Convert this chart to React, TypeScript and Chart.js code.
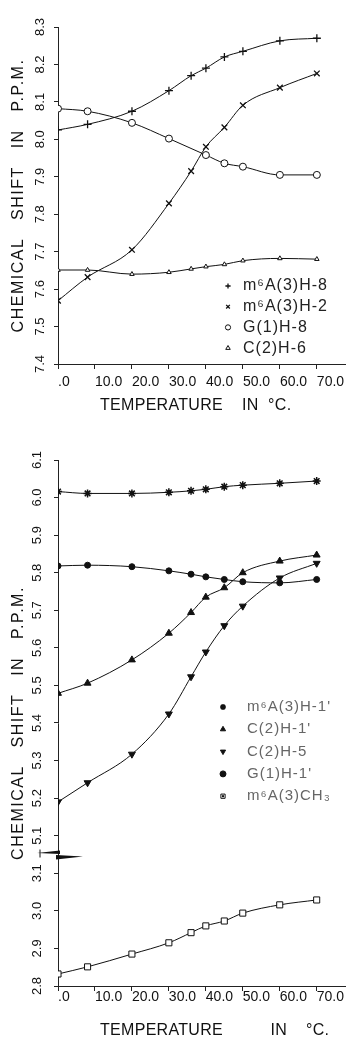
import React, { useEffect, useRef } from 'react';
import { Chart, registerables } from 'chart.js';
import { drawPoint } from 'chart.js/helpers';

Chart.register(...registerables);

// ---------- data ----------
const TEMPERATURES = [0, 8, 20, 30, 36, 40, 45, 50, 60, 70];
const X_TICKS = [0, 10, 20, 30, 40, 50, 60, 70];
const X_TICK_LABELS = ['.0', '10.0', '20.0', '30.0', '40.0', '50.0', '60.0', '70.0'];

// upper panel (aromatic protons), ppm
const M6A_H8 = [8.025, 8.04, 8.075, 8.13, 8.17, 8.19, 8.22, 8.235, 8.263, 8.27];
const M6A_H2 = [7.569, 7.632, 7.705, 7.829, 7.915, 7.98, 8.032, 8.091, 8.138, 8.176];
const G1_H8 = [8.082, 8.075, 8.044, 8.002, null, 7.958, 7.936, 7.927, 7.905, 7.905];
const C2_H6 = [7.651, 7.651, 7.64, 7.645, 7.654, 7.66, 7.666, 7.676, 7.682, 7.68];

// lower panel, ppm
const M6A_H1P = [6.016, 6.011, 6.011, 6.014, 6.018, 6.022, 6.029, 6.033, 6.038, 6.044];
const C2_H1P = [5.479, 5.506, 5.568, 5.639, 5.694, 5.735, 5.76, 5.8, 5.831, 5.847];
const C2_H5 = [5.19, 5.241, 5.317, 5.424, 5.523, 5.589, 5.659, 5.711, 5.786, 5.825];
const G1_H1P = [5.818, 5.82, 5.816, 5.805, 5.796, 5.789, 5.782, 5.776, 5.773, 5.782];
const M6A_CH3 = [2.832, 2.851, 2.885, 2.915, 2.942, 2.96, 2.973, 2.994, 3.016, 3.029];

// the lower axis is broken between 3.1 and 5.1: values below the break are drawn shifted by this amount
const BREAK_SHIFT = 1.9;

const INK = '#111';

function points(values: (number | null)[], shift = 0) {
  return TEMPERATURES.map((t, i) => (values[i] == null ? null : { x: t, y: (values[i] as number) + shift })).filter(
    (p) => p !== null
  );
}

// ---------- plugins ----------
const markerLegend = {
  id: 'markerLegend',
  afterDraw(chart: any, _args: any, opts: any) {
    const ctx = chart.ctx;
    ctx.save();
    ctx.font = opts.font;
    ctx.textBaseline = 'middle';
    ctx.textAlign = 'left';
    try { ctx.letterSpacing = opts.letterSpacing || '0px'; } catch (e) {}
    chart.data.datasets.forEach((ds: any, i: number) => {
      const y = opts.y + i * opts.rowHeight;
      ctx.strokeStyle = ds.pointBorderColor || INK;
      ctx.fillStyle = ds.pointBackgroundColor || INK;
      ctx.lineWidth = ds.pointBorderWidth || 1;
      drawPoint(
        ctx,
        {
          pointStyle: ds.pointStyle,
          rotation: ds.pointRotation || 0,
          radius: opts.markerRadius,
          borderWidth: ds.pointBorderWidth || 1,
        },
        opts.markerX,
        y
      );
      if (ds.pointStyle === 'rect') {
        ctx.fillStyle = INK;
        ctx.fillRect(opts.markerX - 1, y - 1, 2, 2);
      }
      ctx.fillStyle = opts.color;
      ctx.fillText(ds.label, opts.textX, y);
    });
    ctx.restore();
  },
};

const axisTitles = {
  id: 'axisTitles',
  afterDraw(chart: any, _args: any, opts: any) {
    const { ctx, chartArea } = chart;
    ctx.save();
    ctx.fillStyle = opts.color;
    ctx.font = opts.font;
    ctx.textBaseline = 'middle';
    // x title
    try { ctx.letterSpacing = opts.xLetterSpacing; } catch (e) {}
    ctx.textAlign = 'left';
    ctx.fillText(opts.xText, opts.xLeft, opts.xY);
    // y title
    try { ctx.letterSpacing = opts.yLetterSpacing; } catch (e) {}
    ctx.textAlign = 'center';
    ctx.translate(opts.yX, (chartArea.top + chartArea.bottom) / 2);
    ctx.rotate(-Math.PI / 2);
    ctx.fillText(opts.yText, 0, 0);
    ctx.restore();
  },
};

const axisBreak = {
  id: 'axisBreak',
  afterDraw(chart: any, _args: any, opts: any) {
    if (!opts || opts.value == null) return;
    const { ctx, chartArea } = chart;
    const y = chart.scales.y.getPixelForValue(opts.value);
    const x0 = chartArea.left;
    ctx.save();
    ctx.fillStyle = INK;
    ctx.strokeStyle = INK;
    ctx.lineWidth = 1;
    // upper wedge pointing left
    ctx.beginPath();
    ctx.moveTo(x0 + 2, y - 4);
    ctx.lineTo(x0 + 2, y - 0.5);
    ctx.lineTo(x0 - 21, y - 1.5);
    ctx.closePath();
    ctx.fill();
    ctx.beginPath();
    ctx.moveTo(x0 - 18, y - 5);
    ctx.lineTo(x0 - 18, y + 3);
    ctx.stroke();
    // lower wedge pointing right
    ctx.beginPath();
    ctx.moveTo(x0 - 2, y + 0.5);
    ctx.lineTo(x0 - 2, y + 5);
    ctx.lineTo(x0 + 25, y + 2);
    ctx.closePath();
    ctx.fill();
    ctx.restore();
  },
};

// ---------- config helpers ----------
function series(label: string, values: (number | null)[], style: any, shift = 0) {
  return {
    label,
    data: points(values, shift),
    borderColor: INK,
    borderWidth: 1,
    backgroundColor: INK,
    fill: false,
    cubicInterpolationMode: 'monotone',
    pointBorderColor: INK,
    pointBackgroundColor: INK,
    pointBorderWidth: 1,
    ...style,
  };
}

function xScale(height: number, tickPadding: number) {
  return {
    type: 'linear',
    min: 0,
    max: 77.8,
    afterBuildTicks: (s: any) => {
      s.ticks = X_TICKS.map((v) => ({ value: v }));
    },
    afterFit: (s: any) => {
      s.height = height;
      s.paddingLeft = 0;
      s.paddingRight = 0;
    },
    ticks: {
      callback: (_v: any, i: number) => X_TICK_LABELS[i],
      align: 'start',
      padding: tickPadding,
      autoSkip: false,
      maxRotation: 0,
      color: INK,
      font: { size: 14, family: "'Liberation Sans', sans-serif" },
    },
    grid: { display: true, drawOnChartArea: false, drawTicks: true, tickLength: 5, color: '#222' },
    border: { display: true, color: '#222', width: 1 },
  };
}

function yScale(min: number, max: number, tickPadding: number, labelFor: (v: number) => string) {
  return {
    type: 'linear',
    min,
    max,
    afterFit: (s: any) => {
      s.width = 58;
      s.paddingTop = 0;
      s.paddingBottom = 0;
    },
    ticks: {
      stepSize: 0.1,
      callback: (v: number) => labelFor(v),
      minRotation: 90,
      maxRotation: 90,
      crossAlign: 'center',
      padding: tickPadding,
      autoSkip: false,
      color: INK,
      font: { size: 13, family: "'Liberation Sans', sans-serif" },
    },
    grid: { display: true, drawOnChartArea: false, drawTicks: true, tickLength: 4, color: '#222' },
    border: { display: true, color: '#222', width: 1 },
  };
}

const TITLE_FONT = "16px 'Liberation Sans', sans-serif";

function topConfig(): any {
  return {
    type: 'line',
    data: {
      datasets: [
        series('m⁶A(3)H-8', M6A_H8, { pointStyle: 'cross', pointRadius: 4, pointBorderWidth: 1.3 }),
        series('m⁶A(3)H-2', M6A_H2, { pointStyle: 'crossRot', pointRadius: 4, pointBorderWidth: 1.3 }),
        series('G(1)H-8', G1_H8, { pointStyle: 'circle', pointRadius: 3.5, pointBackgroundColor: '#fff' }),
        series('C(2)H-6', C2_H6, { pointStyle: 'triangle', pointRadius: 2.6, pointBackgroundColor: '#fff' }),
      ],
    },
    options: {
      animation: false,
      responsive: false,
      events: [],
      layout: { padding: { top: 27, left: 0, right: 0, bottom: 0 } },
      scales: {
        x: xScale(56, 4.6),
        y: yScale(7.4, 8.3, 5, (v) => v.toFixed(1)),
      },
      plugins: {
        legend: { display: false },
        tooltip: { enabled: false },
        markerLegend: {
          font: TITLE_FONT,
          color: '#222',
          letterSpacing: '1px',
          markerX: 228,
          textX: 243,
          y: 286,
          rowHeight: 20.7,
          markerRadius: 2.6,
        },
        axisTitles: {
          font: TITLE_FONT,
          color: INK,
          xText: 'TEMPERATURE    IN  °C.',
          xLeft: 100,
          xY: 406,
          xLetterSpacing: '0.3px',
          yText: 'CHEMICAL   SHIFT   IN   P.P.M.',
          yX: 19,
          yLetterSpacing: '1.5px',
        },
        axisBreak: {},
      },
    },
    plugins: [markerLegend, axisTitles, axisBreak],
  };
}

function bottomConfig(): any {
  return {
    type: 'line',
    data: {
      datasets: [
        series("m⁶A(3)H-1'", M6A_H1P, { pointStyle: 'star', pointRadius: 4, pointBorderWidth: 1.5 }),
        series("C(2)H-1'", C2_H1P, { pointStyle: 'triangle', pointRadius: 4 }),
        series('C(2)H-5', C2_H5, { pointStyle: 'triangle', pointRotation: 180, pointRadius: 4 }),
        series("G(1)H-1'", G1_H1P, { pointStyle: 'circle', pointRadius: 3 }),
        series('m⁶A(3)CH₃', M6A_CH3, { pointStyle: 'rect', pointRadius: 4.3, pointBackgroundColor: '#fff' }, BREAK_SHIFT),
      ],
    },
    options: {
      animation: false,
      responsive: false,
      events: [],
      layout: { padding: { top: 40, left: 0, right: 0, bottom: 0 } },
      scales: {
        x: xScale(51, -2),
        y: yScale(4.7, 6.1, 8, (v) => (v > 5.05 ? v.toFixed(1) : (v - BREAK_SHIFT).toFixed(1))),
      },
      plugins: {
        legend: { display: false },
        tooltip: { enabled: false },
        markerLegend: {
          font: "15px 'Liberation Sans', sans-serif",
          color: '#666',
          letterSpacing: '1px',
          markerX: 223,
          textX: 247,
          y: 287,
          rowHeight: 22.3,
          markerRadius: 3,
        },
        axisTitles: {
          font: TITLE_FONT,
          color: INK,
          xText: 'TEMPERATURE          IN    °C.',
          xLeft: 100,
          xY: 611,
          xLetterSpacing: '0.3px',
          yText: 'CHEMICAL   SHIFT   IN   P.P.M.',
          yX: 19,
          yLetterSpacing: '1.5px',
        },
        axisBreak: { value: 5.05 },
      },
    },
    plugins: [markerLegend, axisTitles, axisBreak],
  };
}

export default function App() {
  const topRef = useRef<HTMLCanvasElement | null>(null);
  const bottomRef = useRef<HTMLCanvasElement | null>(null);

  useEffect(() => {
    document.body.style.margin = '0';
    Chart.defaults.font.family = "'Liberation Sans', sans-serif";
    Chart.defaults.color = INK;
    const top = new Chart(topRef.current as HTMLCanvasElement, topConfig());
    const bottom = new Chart(bottomRef.current as HTMLCanvasElement, bottomConfig());
    return () => {
      top.destroy();
      bottom.destroy();
    };
  }, []);

  return (
    <div style={{ width: 351, background: '#fff' }}>
      <canvas ref={topRef} width={351} height={420} style={{ display: 'block', width: 351, height: 420 }} />
      <canvas ref={bottomRef} width={351} height={617} style={{ display: 'block', width: 351, height: 617 }} />
    </div>
  );
}
